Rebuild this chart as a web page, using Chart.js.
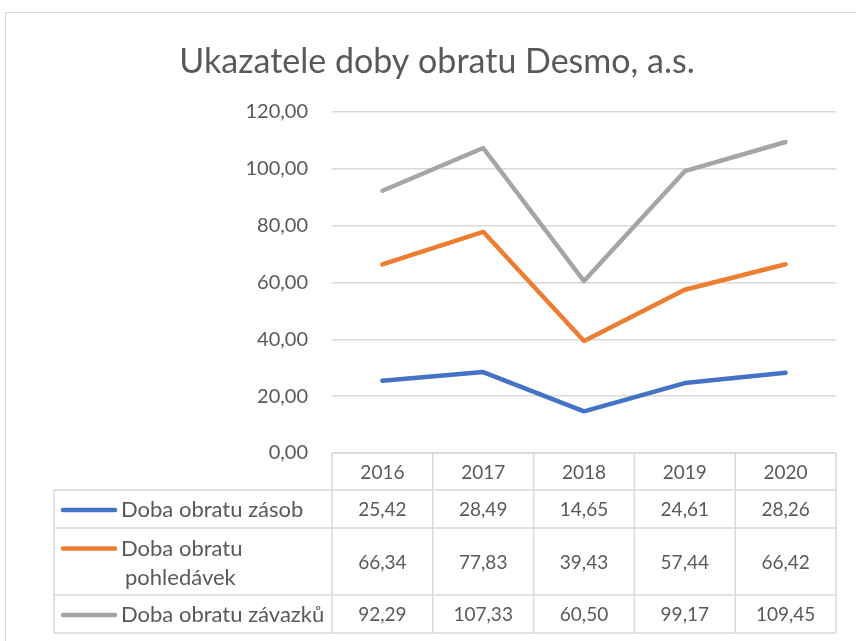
<!DOCTYPE html>
<html>
<head>
<meta charset="utf-8">
<script src="https://cdn.jsdelivr.net/npm/chart.js@4.4.1/dist/chart.umd.min.js"></script>
<style>
  body { margin: 0; background: #fff; }
  #wrap { width: 856px; height: 641px; }
</style>
</head>
<body>
<div id="wrap"><canvas id="chart" width="856" height="641"></canvas></div>
<script>
let years = ['2016', '2017', '2018', '2019', '2020'];
let zasoby = [25.42, 28.49, 14.65, 24.61, 28.26];
let pohledavky = [66.34, 77.83, 39.43, 57.44, 66.42];
let zavazky = [92.29, 107.33, 60.50, 99.17, 109.45];
let seriesNames = ['Doba obratu zásob', ['Doba obratu', 'pohledávek'], 'Doba obratu závazků'];
let seriesColors = ['#4472C4', '#ED7D31', '#A5A5A5'];
let chartTitle = 'Ukazatele doby obratu Desmo, a.s.';

const fontFam = 'Lato, "Open Sans", sans-serif';
const fmt = (v) => v.toFixed(2).replace('.', ',');

// border round the whole chart + title (centred like in Excel, not on canvas)
const frame = {
    id: 'frame',
    beforeDraw(chart) {
        let ctx = chart.ctx;
        ctx.save();
        ctx.strokeStyle = '#d9d9d9';
        ctx.lineWidth = 1;
        ctx.strokeRect(5.5, 12.5, 900, 700);
        ctx.fillStyle = '#595959';
        ctx.font = '34px ' + fontFam;
        ctx.textAlign = 'center';
        ctx.textBaseline = 'middle';
        ctx.fillText(chartTitle, 437, 62);
        ctx.restore();
    }
};

// data table under the plot, columns taken from the x scale
const dataTable = {
    id: 'dataTable',
    afterDraw(chart) {
        let ctx = chart.ctx;
        let x = chart.scales.x;
        let area = chart.chartArea;
        let colW = (area.right - area.left) / years.length;
        let top = area.bottom;
        let rows = [37, 38, 67, 38];
        let legendLeft = 54;
        let ys = [top];
        for (let h of rows) ys.push(ys[ys.length - 1] + h);

        ctx.save();
        ctx.strokeStyle = '#d9d9d9';
        ctx.lineWidth = 1.5;
        // horizontal lines
        ctx.beginPath();
        ctx.moveTo(area.left, ys[0]); ctx.lineTo(area.right, ys[0]);
        for (let i = 1; i < ys.length; i++) {
            ctx.moveTo(legendLeft, ys[i]); ctx.lineTo(area.right, ys[i]);
        }
        // vertical lines
        for (let i = 0; i <= years.length; i++) {
            let cx = area.left + i * colW;
            ctx.moveTo(cx, ys[0]); ctx.lineTo(cx, ys[ys.length - 1]);
        }
        ctx.moveTo(legendLeft, ys[1]); ctx.lineTo(legendLeft, ys[ys.length - 1]);
        ctx.stroke();

        ctx.fillStyle = '#595959';
        ctx.font = '19px ' + fontFam;
        ctx.textAlign = 'center';
        ctx.textBaseline = 'middle';
        years.forEach((y, i) => {
            ctx.fillText(y, x.getPixelForValue(i), (ys[0] + ys[1]) / 2 + 1);
        });

        chart.data.datasets.forEach((ds, r) => {
            let yc = (ys[r + 1] + ys[r + 2]) / 2 + 1;
            ctx.textAlign = 'center';
            ctx.font = '19px ' + fontFam;
            ds.data.forEach((v, i) => {
                ctx.fillText(fmt(v), x.getPixelForValue(i), yc);
            });
            // legend key + name
            let name = seriesNames[r];
            let lines = Array.isArray(name) ? name : [name];
            let firstY = lines.length > 1 ? yc - 14 : yc;
            ctx.strokeStyle = seriesColors[r];
            ctx.lineWidth = 4.5;
            ctx.lineCap = 'round';
            ctx.beginPath();
            ctx.moveTo(63, firstY); ctx.lineTo(115, firstY);
            ctx.stroke();
            ctx.textAlign = 'left';
            ctx.font = '22px ' + fontFam;
            lines.forEach((t, k) => {
                ctx.fillText(t, k === 0 ? 121 : 125, firstY + k * 29);
            });
        });
        ctx.restore();
    }
};

let config = {
    type: 'line',
    data: {
        labels: years,
        datasets: [
            { label: 'Doba obratu zásob', data: zasoby, borderColor: seriesColors[0] },
            { label: 'Doba obratu pohledávek', data: pohledavky, borderColor: seriesColors[1] },
            { label: 'Doba obratu závazků', data: zavazky, borderColor: seriesColors[2] }
        ]
    },
    options: {
        responsive: false,
        animation: false,
        layout: { padding: { left: 0, right: 20, top: 112, bottom: 188 } },
        elements: {
            line: { borderWidth: 4.5, borderCapStyle: 'round', borderJoinStyle: 'round', tension: 0 },
            point: { radius: 0 }
        },
        plugins: {
            legend: { display: false },
            tooltip: { enabled: false },
            title: { display: false }
        },
        scales: {
            x: {
                display: false,
                offset: true
            },
            y: {
                min: 0,
                max: 120,
                ticks: {
                    stepSize: 20,
                    color: '#595959',
                    font: { family: fontFam, size: 20 },
                    padding: 24,
                    callback: (v) => fmt(v)
                },
                grid: { color: '#d9d9d9', lineWidth: 1.5, drawTicks: false },
                border: { display: false },
                afterFit(scale) { scale.width = 332; }
            }
        }
    },
    plugins: [frame, dataTable]
};

let canvasElement = document.getElementById('chart');
let lineChart = new Chart(canvasElement, config);
</script>
</body>
</html>
